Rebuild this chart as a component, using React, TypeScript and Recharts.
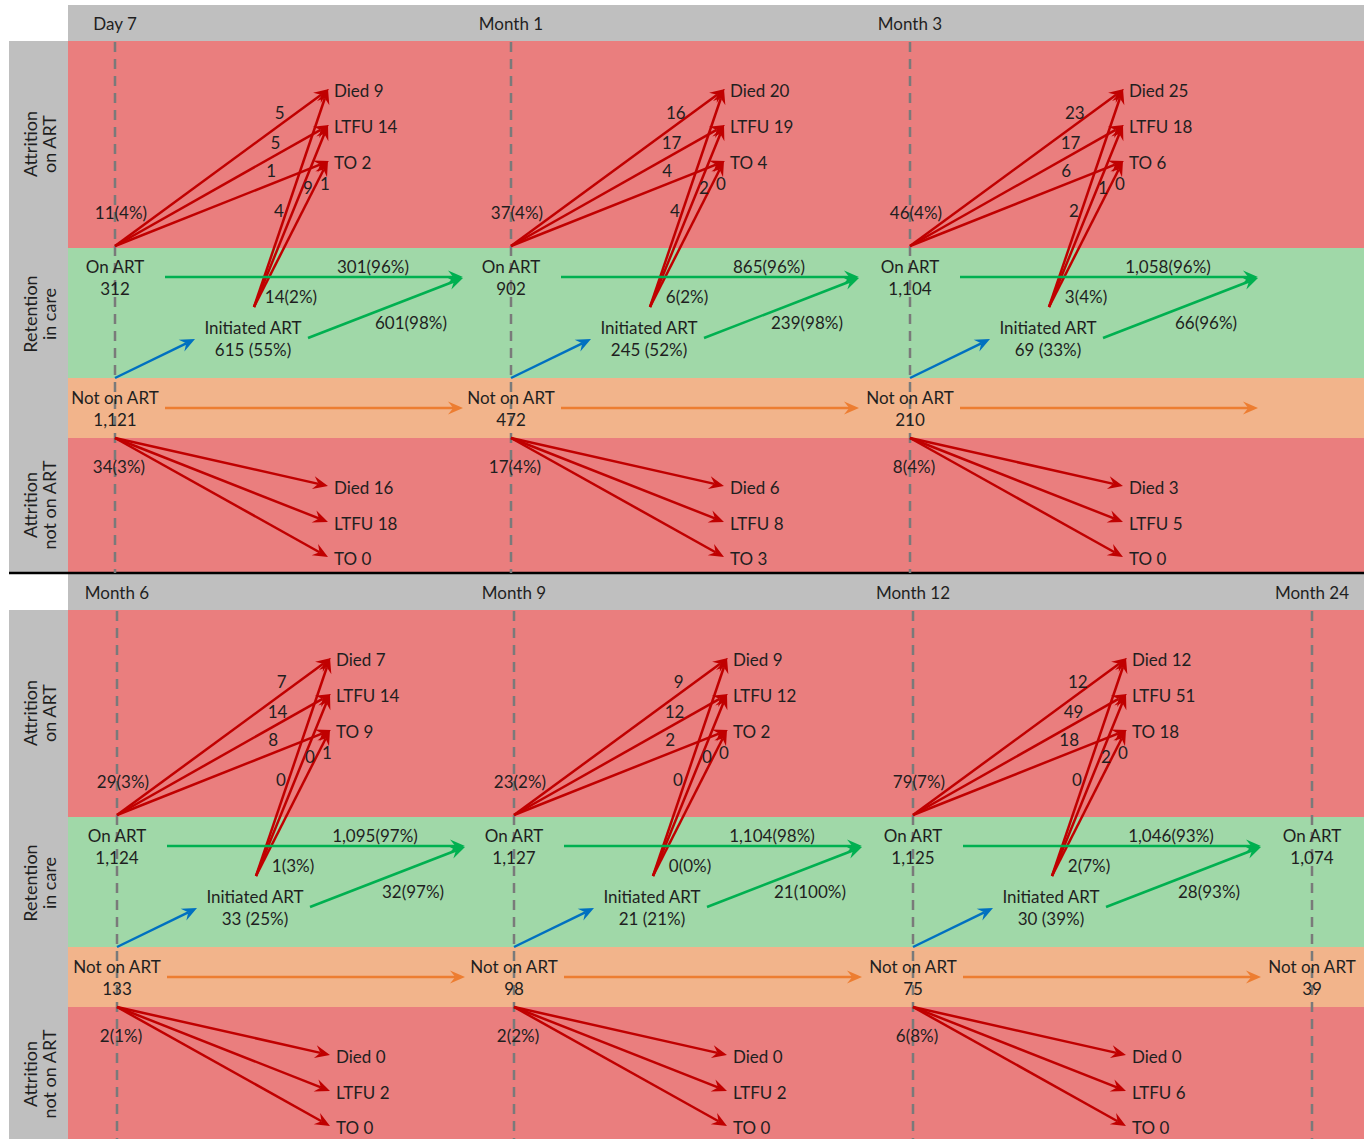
import React from 'react';
import { ComposedChart, XAxis, YAxis, ReferenceArea, ReferenceLine, Scatter } from 'recharts';

// ---------- data ----------
const topTimepoints = ['Day 7', 'Month 1', 'Month 3'];
const bottomTimepoints = ['Month 6', 'Month 9', 'Month 12', 'Month 24'];

const topOnArt = ['312', '902', '1,104'];
const bottomOnArt = ['1,124', '1,127', '1,125', '1,074'];
const topNotOnArt = ['1,121', '472', '210'];
const bottomNotOnArt = ['133', '98', '75', '39'];

const topOnArtAttrition = ['11(4%)', '37(4%)', '46(4%)'];
const bottomOnArtAttrition = ['29(3%)', '23(2%)', '79(7%)'];
// Died, LTFU, TO
const topOnArtOutcome = [[5, 5, 1], [16, 17, 4], [23, 17, 6]];
const bottomOnArtOutcome = [[7, 14, 8], [9, 12, 2], [12, 49, 18]];
const topInitOutcome = [[4, 9, 1], [4, 2, 0], [2, 1, 0]];
const bottomInitOutcome = [[0, 0, 1], [0, 0, 0], [0, 2, 0]];

const topInitiated = ['615 (55%)', '245 (52%)', '69 (33%)'];
const bottomInitiated = ['33 (25%)', '21 (21%)', '30 (39%)'];
const topInitAttrition = ['14(2%)', '6(2%)', '3(4%)'];
const bottomInitAttrition = ['1(3%)', '0(0%)', '2(7%)'];
const topOnArtRetained = ['301(96%)', '865(96%)', '1,058(96%)'];
const bottomOnArtRetained = ['1,095(97%)', '1,104(98%)', '1,046(93%)'];
const topInitRetained = ['601(98%)', '239(98%)', '66(96%)'];
const bottomInitRetained = ['32(97%)', '21(100%)', '28(93%)'];

const topNotOnArtAttrition = ['34(3%)', '17(4%)', '8(4%)'];
const bottomNotOnArtAttrition = ['2(1%)', '2(2%)', '6(8%)'];
const topNotOnArtOutcome = [[16, 18, 0], [6, 8, 3], [3, 5, 0]];
const bottomNotOnArtOutcome = [[0, 2, 0], [0, 2, 0], [0, 6, 0]];

const outcomes = ['Died', 'LTFU', 'TO'];
const rowLabels = [['Attrition', 'on ART'], ['Retention', 'in care'], ['Attrition', 'not on ART']];

// ---------- layout (page units) ----------
const W = 1369;
const H = 1139;
const PANEL_Y = [0, 569];
const COL_X = [[115, 511, 910], [117, 514, 913, 1312]];
const LEFT = 9;
const BAND_X0 = 68;
const RIGHT = 1364;
const HEADER = [5, 41];
const BANDS = [
  { y1: 41, y2: 248, fill: '#EA7E7E' },
  { y1: 248, y2: 378, fill: '#A0D8A8' },
  { y1: 378, y2: 438, fill: '#F2B48B' },
  { y1: 438, y2: 573, fill: '#EA7E7E' },
];
const ROW_MID = [144, 314, 505];
const TIP_DX = 214;
const OUT_ON_Y = [89, 125, 161];
const OUT_NOT_Y = [486, 522, 557];
const LABEL_F = [0.77, 0.75, 0.73];
const INIT_LABEL = [[164, 210], [193, 187], [210, 183]];
const STEP = 348;

const RED = '#C00000';
const GREEN = '#00B050';
const BLUE = '#0070C0';
const ORANGE = '#ED7D31';
const FONT = 'Lato, "Open Sans", sans-serif';

const panels = [
  {
    times: topTimepoints, onArt: topOnArt, notOnArt: topNotOnArt, onAttr: topOnArtAttrition,
    onOut: topOnArtOutcome, initOut: topInitOutcome, initiated: topInitiated, initAttr: topInitAttrition,
    onRet: topOnArtRetained, initRet: topInitRetained, notAttr: topNotOnArtAttrition, notOut: topNotOnArtOutcome,
  },
  {
    times: bottomTimepoints, onArt: bottomOnArt, notOnArt: bottomNotOnArt, onAttr: bottomOnArtAttrition,
    onOut: bottomOnArtOutcome, initOut: bottomInitOutcome, initiated: bottomInitiated, initAttr: bottomInitAttrition,
    onRet: bottomOnArtRetained, initRet: bottomInitRetained, notAttr: bottomNotOnArtAttrition, notOut: bottomNotOnArtOutcome,
  },
];

type Pt = { x: number; y: number };
type Arrow = { from: Pt; to: Pt; color: string };
type Txt = { x: number; y: number; text: string; anchor?: string; rot?: boolean };

const arrows: Arrow[] = [];
const texts: Txt[] = [];
const dashed: { x: number; y1: number; y2: number }[] = [];

panels.forEach((p, pi) => {
  const py = PANEL_Y[pi];
  const cols = COL_X[pi];
  // row labels
  rowLabels.forEach((lines, ri) => {
    texts.push({ x: 30, y: ROW_MID[ri] + py, text: lines[0], rot: true });
    texts.push({ x: 49, y: ROW_MID[ri] + py, text: lines[1], rot: true });
  });
  // columns
  p.times.forEach((t, ci) => {
    const bx = cols[ci];
    dashed.push({ x: bx, y1: 42 + py, y2: Math.min(573 + py, H) });
    texts.push({ x: bx, y: 23 + py, text: t });
    if (p.onArt[ci] !== undefined) {
      texts.push({ x: bx, y: 266 + py, text: 'On ART' });
      texts.push({ x: bx, y: 288 + py, text: p.onArt[ci] });
    }
    texts.push({ x: bx, y: 397 + py, text: 'Not on ART' });
    texts.push({ x: bx, y: 419 + py, text: p.notOnArt[ci] });
  });
  // transitions
  p.onAttr.forEach((_, ci) => {
    const bx = cols[ci];
    const tipX = bx + TIP_DX;
    texts.push({ x: bx + 6, y: 212 + py, text: p.onAttr[ci] });
    outcomes.forEach((o, k) => {
      const tipY = OUT_ON_Y[k] + py;
      const startY = 246 + py;
      arrows.push({ from: { x: bx, y: startY }, to: { x: tipX, y: tipY }, color: RED });
      arrows.push({ from: { x: bx + 139, y: 307 + py }, to: { x: tipX - 1, y: tipY }, color: RED });
      const f = LABEL_F[k];
      texts.push({ x: bx + f * TIP_DX, y: startY + f * (tipY - startY) - 13, text: String(p.onOut[ci][k]) });
      texts.push({ x: bx + INIT_LABEL[k][0], y: INIT_LABEL[k][1] + py, text: String(p.initOut[ci][k]) });
      texts.push({ x: tipX + 5, y: tipY + 1, text: `${o} ${p.onOut[ci][k] + p.initOut[ci][k]}`, anchor: 'start' });

      const nTipY = OUT_NOT_Y[k] + py;
      arrows.push({ from: { x: bx, y: 438 + py }, to: { x: tipX - 1, y: nTipY }, color: RED });
      texts.push({ x: tipX + 5, y: nTipY + 1, text: `${o} ${p.notOut[ci][k]}`, anchor: 'start' });
    });
    texts.push({ x: bx + 176, y: 296 + py, text: p.initAttr[ci] });
    texts.push({ x: bx + 138, y: 327 + py, text: 'Initiated ART' });
    texts.push({ x: bx + 138, y: 349 + py, text: p.initiated[ci] });
    texts.push({ x: bx + 258, y: 266 + py, text: p.onRet[ci] });
    texts.push({ x: bx + 296, y: 322 + py, text: p.initRet[ci] });
    texts.push({ x: bx + 4, y: 466 + py, text: p.notAttr[ci] });

    arrows.push({ from: { x: bx, y: 378 + py }, to: { x: bx + 80, y: 339 + py }, color: BLUE });
    arrows.push({ from: { x: bx + 50, y: 277 + py }, to: { x: bx + STEP, y: 277 + py }, color: GREEN });
    arrows.push({ from: { x: bx + 193, y: 338 + py }, to: { x: bx + STEP, y: 278 + py }, color: GREEN });
    arrows.push({ from: { x: bx + 50, y: 408 + py }, to: { x: bx + STEP, y: 408 + py }, color: ORANGE });
  });
});

const arrowShape = (color: string) => (props: any) => {
  const { x1, y1, x2, y2 } = props;
  const dx = x2 - x1;
  const dy = y2 - y1;
  const len = Math.hypot(dx, dy) || 1;
  const ux = dx / len;
  const uy = dy / len;
  const nx = -uy;
  const ny = ux;
  const head = 15;
  const hw = 6.5;
  const bx = x2 - ux * head;
  const by = y2 - uy * head;
  const mx = x2 - ux * head * 0.65;
  const my = y2 - uy * head * 0.65;
  return (
    <g>
      <line x1={x1} y1={y1} x2={mx} y2={my} stroke={color} strokeWidth={2.5} />
      <polygon
        points={`${x2},${y2} ${bx + nx * hw},${by + ny * hw} ${mx},${my} ${bx - nx * hw},${by - ny * hw}`}
        fill={color}
      />
    </g>
  );
};

const TextMark = (props: any) => {
  const { cx, cy, payload } = props;
  const d = payload as Txt;
  return (
    <text
      x={cx}
      y={cy}
      textAnchor={d.anchor ?? 'middle'}
      dominantBaseline="central"
      fontSize={d.rot ? 18 : 17}
      fontFamily={FONT}
      fill="#1f1f1f"
      transform={d.rot ? `rotate(-90 ${cx} ${cy})` : undefined}
    >
      {d.text}
    </text>
  );
};

export default function App() {
  return (
    <div style={{ position: 'absolute', left: 0, top: 0, width: W, height: H, background: '#fff' }}>
      <ComposedChart width={W} height={H} margin={{ top: 0, right: 0, bottom: 0, left: 0 }}>
        <XAxis type="number" dataKey="x" domain={[0, W]} allowDataOverflow hide />
        <YAxis type="number" dataKey="y" domain={[0, H]} allowDataOverflow reversed hide />
        {PANEL_Y.map((py, pi) => (
          <React.Fragment key={`p${pi}`}>
            <ReferenceArea x1={BAND_X0} x2={RIGHT} y1={HEADER[0] + py} y2={HEADER[1] + py}
              fill="#BFBFBF" fillOpacity={1} stroke="none" ifOverflow="visible" />
            <ReferenceArea x1={LEFT} x2={BAND_X0} y1={41 + py} y2={Math.min(573 + py, H)}
              fill="#BFBFBF" fillOpacity={1} stroke="none" ifOverflow="visible" />
            {BANDS.map((b, bi) => (
              <ReferenceArea key={bi} x1={BAND_X0} x2={RIGHT} y1={b.y1 + py} y2={Math.min(b.y2 + py, H)}
                fill={b.fill} fillOpacity={1} stroke="none" ifOverflow="visible" />
            ))}
          </React.Fragment>
        ))}
        <ReferenceLine segment={[{ x: LEFT, y: 573 }, { x: RIGHT, y: 573 }]} stroke="#000" strokeWidth={2.5} ifOverflow="visible" />
        {dashed.map((d, i) => (
          <ReferenceLine key={`d${i}`} segment={[{ x: d.x, y: d.y1 }, { x: d.x, y: d.y2 }]}
            stroke="#7A7A7A" strokeWidth={2.5} strokeDasharray="10 7" ifOverflow="visible" />
        ))}
        {arrows.map((a, i) => (
          <ReferenceLine key={`a${i}`} segment={[a.from, a.to]} stroke={a.color}
            shape={arrowShape(a.color)} ifOverflow="visible" />
        ))}
        <Scatter data={texts} shape={TextMark} isAnimationActive={false} />
      </ComposedChart>
    </div>
  );
}
